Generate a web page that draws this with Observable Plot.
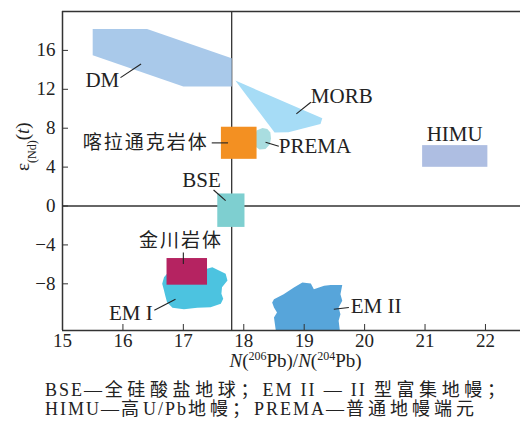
<!DOCTYPE html>
<html>
<head>
<meta charset="utf-8">
<script src="https://cdn.jsdelivr.net/npm/d3@7"></script>
<script src="https://cdn.jsdelivr.net/npm/@observablehq/plot@0.6"></script>
<style>
  body { margin: 0; background: #fff; }
  #chart { width: 520px; }
  .caption {
    font-family: "Liberation Serif", "Noto Sans CJK SC", serif;
    font-size: 18px;
    line-height: 19px;
    color: #222;
    padding-left: 45px;
    letter-spacing: 2px;
    margin-top: 3px;
    white-space: nowrap;
  }
  .caption .cn { letter-spacing: 4px; }
  .caption .full { width: 464px; text-align: justify; text-align-last: justify; }
</style>
</head>
<body>
<div id="chart"></div>
<div class="caption">
  <div class="full">BSE—<span class="cn">全硅酸盐地球；</span>EM II — II <span class="cn">型富集地幔；</span></div>
  <div>HIMU—<span class="cn">高</span>U/Pb<span class="cn">地幔；</span>PREMA—<span class="cn">普通地幔端元</span></div>
</div>
<script>
// Axis ticks and limits
const xTicks = [15, 16, 17, 18, 19, 20, 21, 22];
const yTicks = [-8, -4, 0, 4, 8, 12, 16];
const xDomain = [15, 22.58];
const yDomain = [-12.8, 20];
const chondriteX = 17.8; // vertical reference line
const chondriteY = 0;    // horizontal reference line

// Mantle end-member fields: outlines as [206Pb/204Pb, εNd(t)]
const dmOutline = [[15.5, 18.2], [16.4, 18.2], [17.8, 15.2], [17.8, 12.3], [17.0, 12.3], [15.5, 15.5]];
const morbOutline = [[17.86, 12.9], [19.30, 9.02], [19.27, 8.44], [18.74, 7.58], [18.51, 7.55]];
const premaOutline = [[18.31, 8.02], [18.39, 7.92], [18.44, 7.56], [18.45, 6.94], [18.43, 6.32], [18.36, 5.86],
  [18.26, 5.81], [18.19, 6.12], [18.18, 6.94], [18.21, 7.76]];
const em1Outline = [[16.73, -6.97], [17.39, -6.46], [17.48, -6.29], [17.59, -6.63], [17.70, -6.97], [17.73, -7.66],
  [17.64, -8.35], [17.63, -9.03], [17.66, -9.54], [17.62, -10.06], [17.45, -10.41], [17.23, -10.45],
  [17.01, -10.62], [16.82, -10.45], [16.73, -9.89], [16.70, -9.20], [16.68, -8.69], [16.65, -8.00], [16.68, -7.32]];
const em2Outline = [[18.47, -9.93], [18.50, -9.58], [18.66, -9.06], [18.83, -8.38], [18.97, -7.87], [19.11, -7.97],
  [19.16, -8.55], [19.33, -8.21], [19.44, -8.11], [19.63, -8.11], [19.60, -9.06], [19.63, -9.75], [19.57, -10.44],
  [19.60, -11.12], [19.57, -11.81], [19.59, -12.8], [18.53, -12.8], [18.50, -11.47], [18.55, -10.96], [18.50, -10.44]];
const fieldOutlines = [dmOutline, morbOutline, premaOutline, em1Outline, em2Outline];
const fieldColors = ["#a9c9ea", "#a6dcf6", "#a9dde0", "#4cc3e0", "#57a5da"];

// Rectangular fields: BSE, Kalatongke intrusion, Jinchuan intrusion, HIMU
const boxNames = ["BSE", "喀拉通克岩体", "金川岩体", "HIMU"];
const boxX1 = [17.57, 17.63, 16.73, 20.96];
const boxX2 = [18.02, 18.22, 17.40, 22.04];
const boxY1 = [-2.2, 4.8, -8.14, 3.98];
const boxY2 = [1.24, 8.1, -5.40, 6.21];
const boxColors = ["#7ecfd0", "#f39022", "#b52361", "#aebee2"];

// Field labels
const labelText = ["DM", "MORB", "PREMA", "HIMU", "BSE", "EM I", "EM II", "喀拉通克岩体", "金川岩体"];
const labelX = [15.66, 19.11, 18.58, 21.49, 17.30, 16.13, 19.77, 17.42, 16.96];
const labelY = [12.96, 11.3, 6.1, 7.34, 2.6, -10.99, -10.32, 6.47, -3.57];
const labelAnchor = ["middle", "start", "start", "middle", "middle", "middle", "start", "end", "middle"];

// Leader lines from labels to fields
const leaderX1 = [15.96, 18.87, 18.36, 17.47, 17.50, 17.0, 16.52, 19.49];
const leaderY1 = [13.2, 9.47, 6.55, 6.49, 1.65, -4.78, -10.71, -10.61];
const leaderX2 = [16.30, 19.11, 18.58, 17.74, 17.70, 17.0, 16.87, 19.74];
const leaderY2 = [14.6, 10.67, 6.14, 6.49, 0.55, -5.97, -9.58, -10.44];

// Axis titles, split into styled runs
const xTitleRuns = [["N", "italic"], ["(", ""], ["206", "sup"], ["Pb)/", ""], ["N", "italic"], ["(", ""], ["204", "sup"], ["Pb)", ""]];
const yTitleRuns = [["ε", ""], ["(Nd)", "sub"], ["(", ""], ["t", "italic"], [")", ""]];
const xTitle = xTitleRuns.map(r => r[0]).join("");
const yTitle = yTitleRuns.map(r => r[0]).join("");

const serif = '"Liberation Serif", "Noto Sans CJK SC", serif';
const ink = "#222";
const idx = a => a.map((_, i) => i);
const isCJK = s => /[\u4e00-\u9fff]/.test(s);

// one text mark per anchor and script
const labelMarks = [];
for (const anchor of ["start", "middle", "end"]) {
  for (const cjk of [false, true]) {
    const ids = idx(labelText).filter(i => labelAnchor[i] === anchor && isCJK(labelText[i]) === cjk);
    if (!ids.length) continue;
    labelMarks.push(Plot.text(ids, {
      x: i => labelX[i], y: i => labelY[i], text: i => labelText[i],
      textAnchor: anchor, fontSize: cjk ? 19 : 21, fontFamily: serif, fill: ink
    }));
  }
}

const svg = Plot.plot({
  width: 520,
  height: 378,
  marginLeft: 62,
  marginRight: 0,
  marginTop: 11,
  marginBottom: 48,
  style: { fontFamily: serif, background: "#fff", color: ink },
  x: { domain: xDomain },
  y: { domain: yDomain },
  marks: [
    // reference lines sit beneath the fields
    Plot.ruleX([chondriteX], { stroke: "#333", strokeWidth: 1.3 }),
    Plot.ruleY([chondriteY], { stroke: "#333", strokeWidth: 1.3 }),
    // irregular fields
    ...fieldOutlines.map((pts, k) => Plot.line(pts, {
      x: d => d[0], y: d => d[1], fill: fieldColors[k], stroke: "none"
    })),
    // rectangular fields
    Plot.rect(idx(boxNames), {
      x1: i => boxX1[i], x2: i => boxX2[i], y1: i => boxY1[i], y2: i => boxY2[i],
      fill: i => boxColors[i]
    }),
    // frame: left, top and bottom
    Plot.ruleX([xDomain[0]], { stroke: "#333", strokeWidth: 1.5 }),
    Plot.ruleY(yDomain, { stroke: "#333", strokeWidth: 1.5 }),
    // axes with inward ticks
    Plot.axisX({ ticks: xTicks, tickSize: -6, tickPadding: 9, fontSize: 19, fontFamily: serif,
      stroke: "#333", fill: ink, label: null }),
    Plot.axisY({ ticks: yTicks, tickSize: -6, tickPadding: 13, fontSize: 19, fontFamily: serif,
      stroke: "#333", fill: ink, label: null }),
    // leader lines
    Plot.link(idx(leaderX1), {
      x1: i => leaderX1[i], y1: i => leaderY1[i], x2: i => leaderX2[i], y2: i => leaderY2[i],
      stroke: ink, strokeWidth: 1.1
    }),
    // labels
    ...labelMarks,
    // axis titles
    Plot.text([xTitle], { frameAnchor: "bottom", dx: 4, dy: 36, text: d => d,
      fontSize: 19, fontFamily: serif, fill: ink }),
    Plot.text([yTitle], { frameAnchor: "left", x: null, y: 3.6, dx: -40, rotate: -90, text: d => d,
      fontSize: 19, fontFamily: serif, fill: ink })
  ]
});

// Rebuild axis titles with italic / superscript / subscript runs
function styleRuns(node, runs) {
  while (node.firstChild) node.removeChild(node.firstChild);
  const t = d3.select(node);
  for (const [s, kind] of runs) {
    const sp = t.append("tspan").text(s);
    if (kind === "italic") sp.attr("font-style", "italic");
    if (kind === "sup") sp.attr("baseline-shift", "super").attr("font-size", 12);
    if (kind === "sub") sp.attr("baseline-shift", "sub").attr("font-size", 12);
  }
}
d3.select(svg).selectAll("text").each(function () {
  const s = this.textContent;
  if (s === xTitle) styleRuns(this, xTitleRuns);
  else if (s === yTitle) styleRuns(this, yTitleRuns);
  else if (isCJK(s)) d3.select(this).attr("letter-spacing", 2);
});

document.getElementById("chart").appendChild(svg);
</script>
</body>
</html>
